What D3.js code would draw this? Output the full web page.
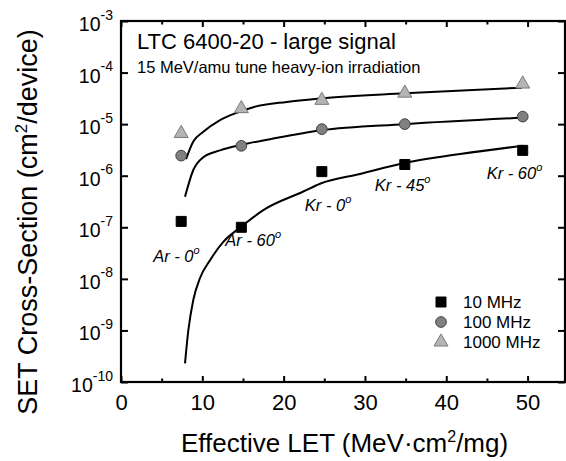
<!DOCTYPE html>
<html>
<head>
<meta charset="utf-8">
<script src="https://cdn.jsdelivr.net/npm/d3@7"></script>
<style>
  html, body { margin: 0; padding: 0; background: #fff; }
  svg { display: block; }
  text { font-family: "Liberation Sans", Arial, sans-serif; fill: #000; }
</style>
</head>
<body>
<svg id="chart" width="566" height="461"></svg>
<script>
// ---------------- data ----------------
const let_x = [7.4, 14.8, 24.7, 34.9, 49.4];
const sigma10 = [1.3e-7, 1.0e-7, 1.2e-6, 1.65e-6, 3.1e-6];
const sigma100 = [2.45e-6, 3.8e-6, 8.0e-6, 1.0e-5, 1.4e-5];
const sigma1000 = [6.6e-6, 2.0e-5, 2.9e-5, 4.0e-5, 6.0e-5];

// fitted curves
const fit10_x = [7.87, 8.28, 8.89, 9.72, 10.95, 12.58, 14.76, 17.5, 22.42, 24.48, 29.4, 34.7, 41.7, 49.4];
const fit10_y = [2.3e-10, 1.0e-9, 3.9e-9, 1.04e-8, 2.3e-8, 5.2e-8, 1.02e-7, 2.16e-7, 4.94e-7, 7.0e-7, 1.08e-6, 1.74e-6, 2.64e-6, 3.8e-6];
const fit100_x = [7.87, 8.89, 10.12, 12.18, 14.76, 18.33, 24.6, 34.9, 49.3];
const fit100_y = [3.9e-7, 1.29e-6, 2.28e-6, 3.1e-6, 3.95e-6, 5.1e-6, 7.6e-6, 1.0e-5, 1.33e-5];
const fit1000_x = [8.0, 8.89, 10.12, 12.18, 14.23, 16.27, 20.38, 24.5, 34.9, 49.3];
const fit1000_y = [2.1e-6, 4.6e-6, 7.1e-6, 1.2e-5, 1.66e-5, 2.13e-5, 2.7e-5, 3.15e-5, 3.96e-5, 5.1e-5];

const seriesNames = ["10 MHz", "100 MHz", "1000 MHz"];
const xTickLabels = [0, 10, 20, 30, 40, 50];
const xMinorTicks = [5, 15, 25, 35, 45];
const yTickExps = [-3, -4, -5, -6, -7, -8, -9, -10];

const ionLabels = ["Ar - 0", "Ar - 60", "Kr - 0", "Kr - 45", "Kr - 60"];
// ---------------- layout ----------------
const L = 121, R = 565, T = 21, B = 382;
const svg = d3.select("#chart");

const x = d3.scaleLinear().domain([0, 54.6]).range([L, R]);
const y = d3.scaleLog().domain([1e-10, 1e-3]).range([B, T]);

// axes (ticks inward)
const gB = svg.append("g").attr("transform", `translate(0,${B})`)
  .call(d3.axisBottom(x).tickValues(xTickLabels).tickSize(-6).tickPadding(12).tickFormat(d3.format("d")));
const gBm = svg.append("g").attr("transform", `translate(0,${B})`)
  .call(d3.axisBottom(x).tickValues(xMinorTicks).tickSize(-3.5).tickFormat(""));
const gT = svg.append("g").attr("transform", `translate(0,${T})`)
  .call(d3.axisTop(x).tickValues(xTickLabels).tickSize(-6).tickFormat(""));
const gTm = svg.append("g").attr("transform", `translate(0,${T})`)
  .call(d3.axisTop(x).tickValues(xMinorTicks).tickSize(-3.5).tickFormat(""));
const gL = svg.append("g").attr("transform", `translate(${L},0)`)
  .call(d3.axisLeft(y).tickValues(yTickExps.map(e => Math.pow(10, e))).tickSize(-7).tickFormat(""));
const gR = svg.append("g").attr("transform", `translate(${R},0)`)
  .call(d3.axisRight(y).tickValues(yTickExps.map(e => Math.pow(10, e))).tickSize(-7).tickFormat(""));

[gB, gBm, gT, gTm, gL, gR].forEach(g => {
  g.select(".domain").remove();
  g.selectAll(".tick line").attr("stroke", "#000").attr("stroke-width", 2);
});
gB.selectAll(".tick text").attr("font-size", 22).attr("font-family", "Liberation Sans, Arial, sans-serif").attr("fill", "#000");

// frame
svg.append("rect").attr("x", L).attr("y", T).attr("width", R - L).attr("height", B - T)
  .attr("fill", "none").attr("stroke", "#000").attr("stroke-width", 2.2);

// y tick labels 10^n
const yl = svg.append("g").selectAll("text").data(yTickExps).join("text")
  .attr("x", L - 8).attr("y", d => y(Math.pow(10, d)) + 10)
  .attr("text-anchor", "end").attr("font-size", 19.5);
yl.append("tspan").text("10");
yl.append("tspan").attr("font-size", 14).attr("dy", -11.5).text(d => String(d));

// fitted curves
const line = d3.line().x(d => x(d[0])).y(d => y(d[1])).curve(d3.curveMonotoneX);
[[fit10_x, fit10_y], [fit100_x, fit100_y], [fit1000_x, fit1000_y]].forEach(([xs, ys]) => {
  svg.append("path").datum(xs.map((v, i) => [v, ys[i]]))
    .attr("d", line).attr("fill", "none").attr("stroke", "#000").attr("stroke-width", 2);
});

// markers
const styles = [
  { sym: d3.symbolSquare, size: 100, fill: "#000", stroke: "#000" },
  { sym: d3.symbolCircle, size: 90, fill: "#808080", stroke: "#404040" },
  { sym: d3.symbolTriangle, size: 85, fill: "#b4b4b4", stroke: "#7a7a7a" }
];
[sigma10, sigma100, sigma1000].forEach((ys, si) => {
  const st = styles[si];
  svg.append("g").selectAll("path").data(ys).join("path")
    .attr("transform", (d, i) => `translate(${x(let_x[i])},${y(d)})`)
    .attr("d", d3.symbol().type(st.sym).size(st.size))
    .attr("fill", st.fill).attr("stroke", st.stroke).attr("stroke-width", 1);
});

// ion labels (offsets relative to the 10 MHz points)
const labelOffsets = [[-28, 41], [-16, 19], [-17, 39], [-30, 27], [-36, 29]];
const il = svg.append("g").selectAll("text").data(ionLabels).join("text")
  .attr("x", (d, i) => x(let_x[i]) + labelOffsets[i][0])
  .attr("y", (d, i) => y(sigma10[i]) + labelOffsets[i][1])
  .attr("font-size", 16.5).attr("font-style", "italic");
il.append("tspan").text(d => d);
il.append("tspan").attr("font-size", 11).attr("dy", -8).text("o");

// legend
const legX = 441, legY0 = 302, legDy = 20;
const leg = svg.append("g").selectAll("g").data(seriesNames).join("g")
  .attr("transform", (d, i) => `translate(${legX},${legY0 + i * legDy})`);
leg.append("path")
  .attr("d", (d, i) => d3.symbol().type(styles[i].sym).size(styles[i].size)())
  .attr("fill", (d, i) => styles[i].fill).attr("stroke", (d, i) => styles[i].stroke).attr("stroke-width", 1);
leg.append("text").attr("x", 22).attr("y", 5.5).attr("font-size", 17).text(d => d);

// title texts
svg.append("text").attr("x", 137).attr("y", 49).attr("font-size", 22).text("LTC 6400-20 - large signal");
svg.append("text").attr("x", 137).attr("y", 73).attr("font-size", 16.5).text("15 MeV/amu tune heavy-ion irradiation");

// axis titles
const xt = svg.append("text").attr("x", 344.5).attr("y", 452).attr("text-anchor", "middle").attr("font-size", 26);
xt.append("tspan").text("Effective LET (MeV\u00b7cm");
xt.append("tspan").attr("font-size", 16).attr("dy", -10).text("2");
xt.append("tspan").attr("dy", 10).text("/mg)");

const yt = svg.append("text").attr("transform", "translate(37,222) rotate(-90)").attr("text-anchor", "middle").attr("font-size", 27);
yt.append("tspan").text("SET Cross-Section (cm");
yt.append("tspan").attr("font-size", 17).attr("dy", -10).text("2");
yt.append("tspan").attr("dy", 10).text("/device)");
</script>
</body>
</html>
